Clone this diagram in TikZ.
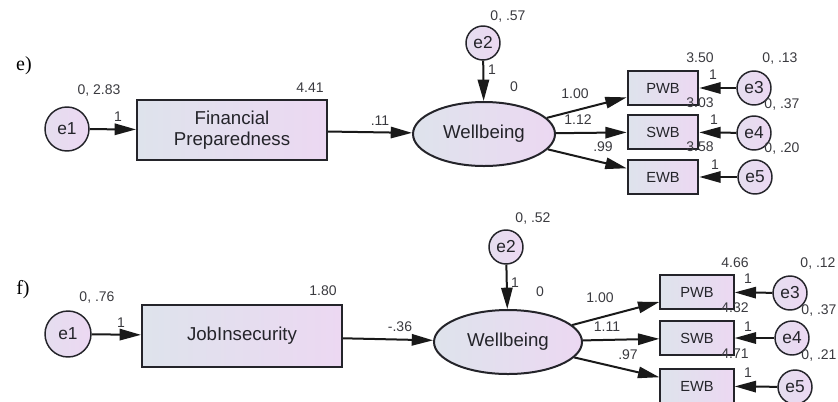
\documentclass[tikz,border=0pt]{standalone}
\usepackage{fontspec}
\setmainfont{Liberation Sans}
\newfontfamily\panelfont{Liberation Serif}
\usepackage{tikz}
\usetikzlibrary{arrows.meta,shapes.geometric}
\definecolor{fillL}{RGB}{222,227,236}
\definecolor{fillR}{RGB}{236,216,242}
\definecolor{ink}{RGB}{36,36,42}

\tikzset{
  obsbox/.style={draw=ink, line width=1.5pt, left color=fillL, right color=fillR, text=ink, inner sep=0pt},
  indbox/.style={obsbox, minimum width=53pt, minimum height=25pt, font=\fontsize{11}{11}\selectfont},
  errc/.style={circle, draw=ink, line width=1.1pt, left color=fillL!50!fillR, right color=fillR, text=ink, inner sep=0pt, font=\fontsize{13}{13}\selectfont},
  latent/.style={ellipse, draw=ink, line width=1.5pt, left color=fillL, right color=fillR, text=ink, inner sep=0pt, minimum height=48pt, font=\fontsize{14}{14}\selectfont},
  est/.style={font=\fontsize{10.5}{10.5}\selectfont, text=ink!90, inner sep=0pt},
  reg/.style={draw=black!90, line width=1.5pt, -{Triangle[length=16pt,width=8.5pt]}}
}

\begin{document}
\begin{tikzpicture}[x=0.75pt,y=-0.75pt]
\useasboundingbox (0,0) rectangle (838,401);

% panel e
\node (tage) at (24,66) {\panelfont\fontsize{15}{15}\selectfont e)};
\node[errc, minimum size=33pt] (e1a) at (67,129) {e1};
\node[obsbox, minimum width=142.5pt, minimum height=45pt, align=center, font=\fontsize{14}{15.5}\selectfont] (fpa) at (232,130) {Financial\\Preparedness};
\node[latent, minimum width=106.5pt] (wba) at (484,134) {Wellbeing};
\node[errc, minimum size=25.5pt] (e2a) at (483,43) {e2};
\node[indbox] (pwba) at (663,88) {PWB};
\node[indbox] (swba) at (663,132) {SWB};
\node[indbox] (ewba) at (663,177) {EWB};
\node[errc, minimum size=25.5pt] (e3a) at (754,88) {e3};
\node[errc, minimum size=25.5pt] (e4a) at (754,133) {e4};
\node[errc, minimum size=25.5pt] (e5a) at (755,177) {e5};

\draw[reg] (e1a) -- (fpa);
\draw[reg] (fpa) -- (wba);
\draw[reg] (e2a) -- (wba);
\draw[reg] (wba) -- (pwba);
\draw[reg] (wba) -- (swba);
\draw[reg] (wba) -- (ewba);
\draw[reg] (e3a) -- (pwba);
\draw[reg] (e4a) -- (swba);
\draw[reg] (e5a) -- (ewba);

\node[est] (v1a) at (99,91) {0, 2.83};
\node[est] (w1a) at (118,117) {1};
\node[est] (m1a) at (310,88) {4.41};
\node[est] (b1a) at (380,121) {.11};
\node[est] (v2a) at (508,17) {0, .57};
\node[est] (w2a) at (492,70) {1};
\node[est] (m2a) at (514,87) {0};
\node[est] (l1a) at (575,94) {1.00};
\node[est] (l2a) at (578,120) {1.12};
\node[est] (l3a) at (603,147) {.99};
\node[est] (m3a) at (700,58) {3.50};
\node[est] (v3a) at (780,59) {0, .13};
\node[est] (w3a) at (713,75) {1};
\node[est] (m4a) at (700,103) {3.03};
\node[est] (v4a) at (782,105) {0, .37};
\node[est] (w4a) at (714,120) {1};
\node[est] (m5a) at (700,147) {3.58};
\node[est] (v5a) at (782,148) {0, .20};
\node[est] (w5a) at (715,165) {1};

% panel f
\node (tagf) at (23,290) {\panelfont\fontsize{15}{15}\selectfont f)};
\node[errc, minimum size=34.5pt] (e1b) at (68,334) {e1};
\node[obsbox, minimum width=150pt, minimum height=46.5pt, font=\fontsize{14}{15.5}\selectfont] (jib) at (242,336) {JobInsecurity};
\node[latent, minimum width=111pt] (wbb) at (508,342) {Wellbeing};
\node[errc, minimum size=25.5pt] (e2b) at (506,247) {e2};
\node[indbox, minimum width=55pt, minimum height=26pt] (pwbb) at (697,292) {PWB};
\node[indbox, minimum width=55pt, minimum height=26pt] (swbb) at (697,338) {SWB};
\node[indbox, minimum width=55pt, minimum height=26pt] (ewbb) at (697,386) {EWB};
\node[errc, minimum size=25.5pt] (e3b) at (790,293) {e3};
\node[errc, minimum size=25.5pt] (e4b) at (792,338) {e4};
\node[errc, minimum size=25.5pt] (e5b) at (795,387) {e5};

\draw[reg] (e1b) -- (jib);
\draw[reg] (jib) -- (wbb);
\draw[reg] (e2b) -- (wbb);
\draw[reg] (wbb) -- (pwbb);
\draw[reg] (wbb) -- (swbb);
\draw[reg] (wbb) -- (ewbb);
\draw[reg] (e3b) -- (pwbb);
\draw[reg] (e4b) -- (swbb);
\draw[reg] (e5b) -- (ewbb);

\node[est] (v1b) at (97,297) {0, .76};
\node[est] (w1b) at (121,323) {1};
\node[est] (m1b) at (323,291) {1.80};
\node[est] (b1b) at (400,327) {-.36};
\node[est] (v2b) at (533,218) {0, .52};
\node[est] (w2b) at (515,283) {1};
\node[est] (m2b) at (540,292) {0};
\node[est] (l1b) at (600,298) {1.00};
\node[est] (l2b) at (607,327) {1.11};
\node[est] (l3b) at (628,355) {.97};
\node[est] (m3b) at (735,263) {4.66};
\node[est] (v3b) at (818,263) {0, .12};
\node[est] (w3b) at (748,279) {1};
\node[est] (m4b) at (735,308) {4.32};
\node[est] (v4b) at (819,310) {0, .37};
\node[est] (w4b) at (748,327) {1};
\node[est] (m5b) at (735,354) {4.71};
\node[est] (v5b) at (819,355) {0, .21};
\node[est] (w5b) at (748,373) {1};
\end{tikzpicture}
\end{document}
